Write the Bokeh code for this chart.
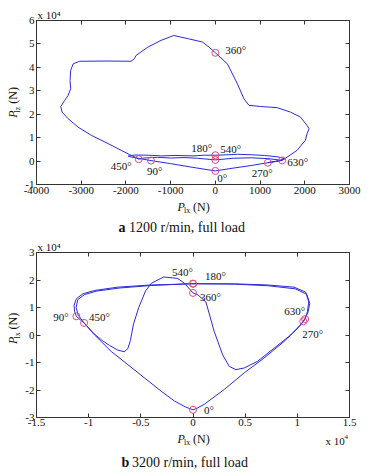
from math import pi
from bokeh.plotting import figure
from bokeh.models import Label, LinearAxis, FixedTicker, Range1d, NumeralTickFormatter, CustomJSTickFormatter
from bokeh.layouts import column, row
from bokeh.embed import file_html
from bokeh.resources import INLINE

# ---------------- data: panel a (1200 r/min), Plx in N, Plz in 1e4 N ----------------
a_plx = [0, -500, -1000, -1439, -1700, -1900, -1950, -1800, -1500, -1200, -900, -500, -250, 0,
         300, 500, 800, 1100, 1400, 1550, 1400, 1174, 1350, 1494, 1606, 1828, 2013, 2051, 2096,
         2051, 1902, 1679, 1383, 1011, 751, 639, 492, 269, 0, -140, -288, -600, -933, -1216,
         -1512, -1773, -1810, -1884, -2400, -3035, -3180, -3236, -3250, -3236, -3294, -3370,
         -3458, -3428, -3294, -3071, -2775, -2403, -2107, -1922, -1773, -1713, -1600, -1300,
         -1000, -700, -400, 0, 400, 800, 1200, 1494, 1174, 800, 400, 0]
a_plz = [-0.42, -0.27, -0.11, 0.02, 0.11, 0.18, 0.21, 0.26, 0.25, 0.22, 0.24, 0.22, 0.25, 0.25,
         0.27, 0.29, 0.27, 0.24, 0.18, 0.10, 0.0, -0.07, -0.01, 0.03, 0.17, 0.46, 0.89, 1.17, 1.38,
         1.52, 1.88, 2.09, 2.28, 2.33, 2.38, 2.66, 3.30, 4.15, 4.62, 4.86, 5.08, 5.22, 5.36, 5.15,
         4.86, 4.51, 4.37, 4.26, 4.27, 4.26, 4.15, 3.87, 3.44, 3.09, 2.8, 2.59,
         2.33, 2.09, 1.81, 1.45, 1.10, 0.75, 0.46, 0.28, 0.15, 0.08, 0.13, 0.16,
         0.13, 0.15, 0.12, 0.05, 0.12, 0.14, 0.10, 0.03, -0.07, -0.19, -0.30, -0.42]
a_mark_x = [0, -1439, 0, 1174, 0, -1713, 0, 1494]
a_mark_z = [-0.42, 0.02, 0.25, -0.07, 4.62, 0.08, 0.05, 0.03]
a_x_ticks = [-4000, -3000, -2000, -1000, 0, 1000, 2000, 3000]
a_y_ticks = [-1, 0, 1, 2, 3, 4, 5, 6]

# ---------------- data: panel b (3200 r/min), both in 1e4 N ----------------
b_plx = [0, -0.07, -0.178, -0.306, -0.624, -0.783, -0.943, -1.04, -1.118,
         -1.135, -1.14, -1.118, -1.054, -0.943, -0.72, -0.40, 0,
         0.395, 0.713, 0.968, 1.08, 1.11, 1.096, 1.075,
         1.03, 0.936, 0.777, 0.618, 0.49, 0.411, 0.347, 0.284, 0.204, 0.124, 0.05, 0,
         -0.083, -0.15, -0.28, -0.40, -0.455, -0.52, -0.57, -0.60, -0.625, -0.66, -0.72, -0.8,
         -0.87, -0.95, -1.044,
         -1.10, -1.12, -1.105, -1.04, -0.92, -0.7, -0.4, 0,
         0.4, 0.72, 0.98, 1.09, 1.12, 1.10, 1.057,
         1.0, 0.872, 0.68, 0.49, 0.30, 0.108, 0.04, 0]
b_plz = [-2.72, -2.62, -2.4, -2.04, -1.08, -0.6, 0.0, 0.42, 0.68,
         0.86, 1.08, 1.32, 1.5, 1.62, 1.74, 1.82, 1.86,
         1.86, 1.82, 1.74, 1.56, 1.2, 0.84, 0.58,
         0.36, 0.0, -0.48, -0.96, -1.2, -1.26, -1.14, -0.72, 0.12, 1.2, 1.45, 1.53,
         1.89, 2.06, 2.11, 1.88, 1.6, 1.0, 0.4, -0.2, -0.5, -0.61, -0.55, -0.38,
         -0.2, 0.05, 0.44,
         0.72, 1.0, 1.28, 1.47, 1.6, 1.71, 1.8, 1.87,
         1.85, 1.79, 1.68, 1.48, 1.15, 0.8, 0.5,
         0.24, -0.24, -0.84, -1.38, -1.98, -2.52, -2.66, -2.72]
b_mark_x = [0, -1.118, 0, 1.075, 0, -1.044, 0, 1.057]
b_mark_z = [-2.72, 0.68, 1.86, 0.58, 1.53, 0.44, 1.87, 0.50]
b_x_ticks = [-1.5, -1, -0.5, 0, 0.5, 1, 1.5]
b_y_ticks = [-3, -2, -1, 0, 1, 2, 3]

angle_labels = ["0°", "90°", "180°", "270°", "360°", "450°", "540°", "630°"]

# label offsets in pixels (right, up) relative to each marker
a_off = [(2, -7), (-4, -10), (-24, 7), (-16, -10), (10, 3), (-28, -7), (5, 11), (5, -2)]
b_off = [(11, 0), (-23, -1), (12, 8), (-3, -15), (7, -4), (5, 6), (-21, 12), (-19, 10)]

FONT = "Liberation Serif"
LINE = "#2b2bd9"
MARK = "#e34a7a"
AX = "#333333"
TXT = "#111111"
W = 361      # total width of the layout
YW = 22      # width of the y-label strip
MW = W - YW  # width of the main figures


def text_fig(w, h):
    f = figure(width=w, height=h, x_range=Range1d(0, w), y_range=Range1d(h, 0),
               x_axis_type=None, y_axis_type=None, output_backend="svg",
               toolbar_location=None, min_border=0)
    f.outline_line_color = None
    f.grid.visible = False
    f.title.visible = False
    return f


def tl(f, x, y, text, size, style="normal", angle=0.0):
    # (x, y): left end / vertical middle of the text, in pixels of the strip
    f.add_layout(Label(x=x, y=y, text=text, text_font=FONT, text_font_size=f"{size}px",
                       text_font_style=style, angle=angle, text_align="left",
                       text_baseline="middle", text_color=TXT))


def main_fig(xr, yr, xt, yt, xfmt, fh, bt, bb, standoff):
    p = figure(width=MW, height=bt + fh + bb, x_range=Range1d(*xr), y_range=Range1d(*yr),
               output_backend="svg", toolbar_location=None,
               min_border_left=13, min_border_right=MW - 13 - 314, min_border_top=bt,
               min_border_bottom=bb)
    # exponent note of the axes, drawn as the figure's own title
    p.title.text = "x 10\u2074"
    p.title.align = "left"
    p.title.offset = 1
    p.title.standoff = 0
    p.title.text_font = FONT
    p.title.text_font_size = "11px"
    p.title.text_font_style = "normal"
    p.title.text_color = TXT
    p.grid.visible = False
    p.outline_line_color = AX
    p.xaxis.ticker = FixedTicker(ticks=xt)
    p.yaxis.ticker = FixedTicker(ticks=yt)
    p.xaxis.formatter = NumeralTickFormatter(format=xfmt)
    p.yaxis.formatter = NumeralTickFormatter(format="0")
    for ax in (p.xaxis[0], p.yaxis[0]):
        ax.axis_line_color = AX
        ax.major_tick_line_color = AX
        ax.major_tick_in = 4
        ax.major_tick_out = 0
        ax.minor_tick_line_color = None
        ax.major_label_text_font = FONT
        ax.major_label_text_font_size = "11px"
        ax.major_label_text_font_style = "normal"
        ax.major_label_text_color = TXT
    p.xaxis.major_label_standoff = standoff
    p.yaxis.major_label_standoff = 2
    for loc, tk in (("above", xt), ("right", yt)):
        ax = LinearAxis(ticker=FixedTicker(ticks=tk), axis_line_color=AX,
                        major_tick_line_color=AX, major_tick_in=4, major_tick_out=0,
                        minor_tick_line_color=None,
                        formatter=CustomJSTickFormatter(code="return ''"),
                        major_label_text_font_size="1px", major_label_standoff=0)
        p.add_layout(ax, loc)
    return p


def draw(p, xs, zs, mx, mz, offs):
    p.line(xs, zs, line_color=LINE, line_width=1)
    p.scatter(mx, mz, marker="circle", size=7, fill_color=None, line_color=MARK, line_width=1)
    for x, z, t, (dx, dy) in zip(mx, mz, angle_labels, offs):
        p.add_layout(Label(x=x, y=z, text=t, x_offset=dx, y_offset=dy, text_font=FONT,
                           text_font_size="11px", text_baseline="middle", text_align="left",
                           text_color=TXT))


# ---------- panel a ----------
pa = main_fig((-4000, 3000), (-1, 6), a_x_ticks, a_y_ticks, "0", 164, 20, 15, 2)
draw(pa, a_plx, a_plz, a_mark_x, a_mark_z, a_off)

ya = text_fig(YW, 199)
tl(ya, 12.7, 118, "P", 12, "italic", pi / 2)
tl(ya, 16.8, 111.5, "lz", 8, "normal", pi / 2)
tl(ya, 12.7, 101, "(N)", 12, "normal", pi / 2)

ta_bot = text_fig(W, 39)
tl(ta_bot, 177, 7, "P", 12, "italic")
tl(ta_bot, 183.5, 11, "lx", 8)
tl(ta_bot, 192.5, 7, "(N)", 12)
tl(ta_bot, 118, 28.3, "a", 14, "bold")
tl(ta_bot, 128.5, 28.3, "1200 r/min, full load", 14)

# ---------- panel b ----------
pb = main_fig((-1.5, 1.5), (-3, 3), b_x_ticks, b_y_ticks, "0.[0]", 167, 12, 14, 1)
draw(pb, b_plx, b_plz, b_mark_x, b_mark_z, b_off)

yb = text_fig(YW, 193)
tl(yb, 12.7, 107, "P", 12, "italic", pi / 2)
tl(yb, 16.8, 100.5, "lx", 8, "normal", pi / 2)
tl(yb, 12.7, 90, "(N)", 12, "normal", pi / 2)

tb_bot = text_fig(W, 43)
tl(tb_bot, 177, 7, "P", 12, "italic")
tl(tb_bot, 183.5, 11, "lx", 8)
tl(tb_bot, 192.5, 7, "(N)", 12)
tl(tb_bot, 325, 9, "x 10", 11)
tl(tb_bot, 344, 5.7, "4", 7)
tl(tb_bot, 121, 31.3, "b", 14, "bold")
tl(tb_bot, 131.5, 31.3, "3200 r/min, full load", 14)

layout = column(row(ya, pa, spacing=0), ta_bot,
                row(yb, pb, spacing=0), tb_bot, spacing=0)
open("out.html", "w").write(file_html(layout, INLINE))
